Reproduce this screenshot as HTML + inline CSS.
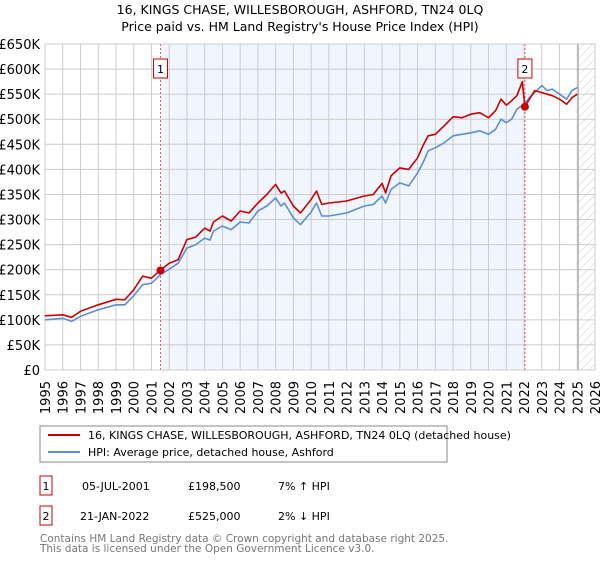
<!DOCTYPE html>
<html><head><meta charset="utf-8"><style>
body{margin:0;background:#fff;font-family:"DejaVu Sans","Liberation Sans",sans-serif;}
svg text{font-family:"DejaVu Sans","Liberation Sans",sans-serif;}
</style></head><body>
<svg width="600" height="560" viewBox="0 0 600 560" xmlns="http://www.w3.org/2000/svg">
<defs><pattern id="hatch" width="6" height="6" patternUnits="userSpaceOnUse" patternTransform="rotate(45)"><line x1="0" y1="0" x2="0" y2="6" stroke="#ccc" stroke-width="1"/></pattern></defs>
<text x="300" y="14" font-size="12.5" text-anchor="middle">16, KINGS CHASE, WILLESBOROUGH, ASHFORD, TN24 0LQ</text>
<text x="300" y="31" font-size="12.5" text-anchor="middle">Price paid vs. HM Land Registry's House Price Index (HPI)</text>
<g id="plot"></g>
<rect x="40" y="426" width="407" height="36" fill="#fff" stroke="#888"/>
<line x1="48" y1="435" x2="80" y2="435" stroke="#cc0000" stroke-width="2"/>
<text x="88" y="439" font-size="11">16, KINGS CHASE, WILLESBOROUGH, ASHFORD, TN24 0LQ (detached house)</text>
<line x1="48" y1="452" x2="80" y2="452" stroke="#5b8fd4" stroke-width="2"/>
<text x="88" y="456" font-size="11">HPI: Average price, detached house, Ashford</text>
<rect x="40" y="476" width="12" height="19" fill="#fff" stroke="#cc0000"/>
<text x="46" y="490" font-size="11" text-anchor="middle">1</text>
<text x="82" y="490" font-size="11">05-JUL-2001</text>
<text x="188" y="490" font-size="11">£198,500</text>
<text x="278" y="490" font-size="11">7% ↑ HPI</text>
<rect x="40" y="506" width="12" height="19" fill="#fff" stroke="#cc0000"/>
<text x="46" y="520" font-size="11" text-anchor="middle">2</text>
<text x="80" y="520" font-size="11">21-JAN-2022</text>
<text x="188" y="520" font-size="11">£525,000</text>
<text x="278" y="520" font-size="11">2% ↓ HPI</text>
<text x="40" y="542" font-size="10.5" fill="#777">Contains HM Land Registry data © Crown copyright and database right 2025.</text>
<text x="40" y="552" font-size="10.5" fill="#777">This data is licensed under the Open Government Licence v3.0.</text>
</svg>
<script>
const hpiYears=[1995,1996,1996.5,1997,1998,1999,1999.5,2000,2000.5,2001,2001.5,2002,2002.5,2003,2003.5,2004,2004.3,2004.5,2005,2005.5,2006,2006.5,2007,2007.5,2008,2008.3,2008.5,2009,2009.4,2010,2010.3,2010.6,2011,2012,2013,2013.5,2014,2014.2,2014.5,2015,2015.5,2016,2016.3,2016.6,2017,2017.5,2018,2018.5,2019,2019.5,2020,2020.4,2020.7,2021,2021.3,2021.6,2022,2022.3,2022.6,2023,2023.3,2023.6,2024,2024.4,2024.7,2025];
const hpiValues=[100,103,97,107,120,130,130,148,170,173,190,201,213,243,250,263,259,277,287,280,295,293,317,327,343,327,333,303,290,315,333,307,307,313,327,330,347,333,360,373,367,393,413,437,443,453,467,470,473,477,470,480,500,493,500,520,530,543,553,567,557,560,550,540,557,563];
const redYears=[1995,1996,1996.5,1997,1998,1999,1999.5,2000,2000.5,2001,2001.5,2002,2002.5,2003,2003.5,2004,2004.3,2004.5,2005,2005.5,2006,2006.5,2007,2007.5,2008,2008.3,2008.5,2009,2009.4,2010,2010.3,2010.6,2011,2012,2013,2013.5,2014,2014.2,2014.5,2015,2015.5,2016,2016.3,2016.6,2017,2017.5,2018,2018.5,2019,2019.5,2020,2020.4,2020.7,2021,2021.3,2021.6,2021.9,2022.05,2022.3,2022.6,2023,2023.3,2023.6,2024,2024.4,2024.7,2025];
const redValues=[108,110,105,117,130,141,140,160,187,183,199,213,220,260,265,283,277,295,307,297,317,313,333,350,370,353,357,327,313,340,357,330,333,337,347,350,372,353,387,403,400,423,447,467,470,487,505,503,510,513,503,517,540,528,537,547,575,525,540,557,553,550,547,540,530,543,550];
const saleYears=[2001.51,2022.05];
const saleValues=[198.5,525];
const saleLabels=["1","2"];
const yTicks=[0,50,100,150,200,250,300,350,400,450,500,550,600,650];
const xTicks=[1995,1996,1997,1998,1999,2000,2001,2002,2003,2004,2005,2006,2007,2008,2009,2010,2011,2012,2013,2014,2015,2016,2017,2018,2019,2020,2021,2022,2023,2024,2025,2026];
const X0=45,X1=595,Y0=370,Y1=44;
const xs=v=>X0+(v-1995)/(2026-1995)*(X1-X0);
const ys=v=>Y0-(v/650)*(Y0-Y1);
const NS="http://www.w3.org/2000/svg";
const g=document.getElementById('plot');
function mk(t,a){const e=document.createElementNS(NS,t);for(const k in a)e.setAttribute(k,a[k]);g.appendChild(e);return e;}
let e;
e=mk('rect',{x:xs(saleYears[0]),y:Y1,width:xs(saleYears[1])-xs(saleYears[0]),height:Y0-Y1,fill:'#eef3fc',opacity:0.8});


e=mk('rect',{x:xs(2025.1),y:Y1,width:X1-xs(2025.1),height:Y0-Y1,fill:'url(#hatch)'});


yTicks.forEach(v=>{
  e=mk('line',{x1:X0,x2:X1,y1:ys(v),y2:ys(v),stroke:'#ccc','stroke-width':1});
  
  
  e=mk('text',{x:40,y:ys(v)+5,'font-size':13,'text-anchor':'end'});
  e.textContent=v===0?'£0':'£'+v+'K';
  
  
});
xTicks.forEach(v=>{
  e=mk('line',{x1:xs(v),x2:xs(v),y1:Y1,y2:Y0,stroke:'#ccc','stroke-width':1});
  
  
  e=mk('text',{x:0,y:0,'font-size':13,'text-anchor':'end',transform:`translate(${xs(v)+5},381) rotate(-90)`});
  e.textContent=v;
  
  
});
e=mk('line',{x1:xs(2025.05),x2:xs(2025.05),y1:Y1,y2:Y0,stroke:'#999','stroke-width':1});


saleYears.forEach((v,i)=>{
  e=mk('line',{x1:xs(v),x2:xs(v),y1:Y1,y2:Y0,stroke:'#e06060','stroke-width':1,'stroke-dasharray':'2,2'});
  
  
});
e=mk('rect',{x:X0,y:Y1,width:X1-X0,height:Y0-Y1,fill:'none',stroke:'#ccc'});


function path(xa,va,col,name){
  const d=xa.map((x,i)=>(i?'L':'M')+xs(x).toFixed(1)+','+ys(va[i]).toFixed(1)).join('');
  e=mk('path',{d:d,fill:'none',stroke:col,'stroke-width':1.6,'stroke-linejoin':'round'});
  
  
}
path(hpiYears,hpiValues,'#5b8fd4','hpi-line');
path(redYears,redValues,'#cc0000','property-line');
saleYears.forEach((v,i)=>{
  e=mk('circle',{cx:xs(v),cy:ys(saleValues[i]),r:4,fill:'#cc0000'});
  
  
  e=mk('rect',{x:xs(v)-7,y:59,width:14,height:19,fill:'#fff',stroke:'#cc0000'});
  
  
  e=mk('text',{x:xs(v),y:73,'font-size':11,'text-anchor':'middle'});
  e.textContent=saleLabels[i];
  
  
});
</script>
</body></html>
